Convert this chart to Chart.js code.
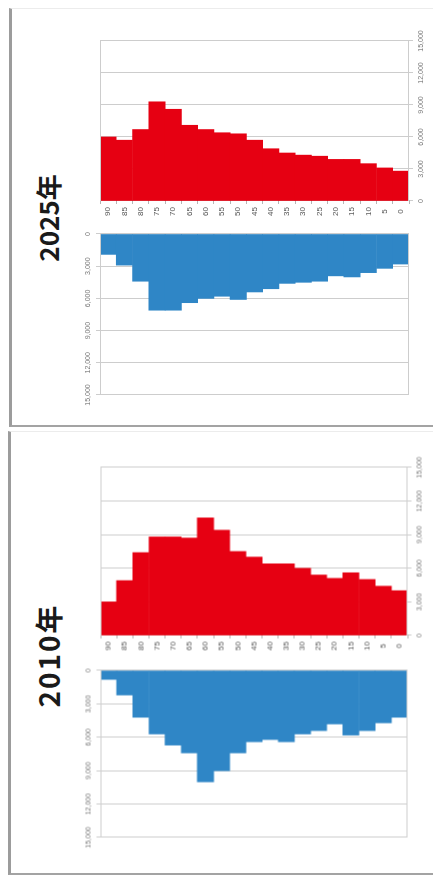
<!DOCTYPE html>
<html>
<head>
<meta charset="utf-8">
<script src="https://cdn.jsdelivr.net/npm/chart.js@4"></script>
<style>
  body { margin: 0; background: #fff; width: 433px; height: 875px; overflow: hidden; position: relative; }
  .frame { position: absolute; box-sizing: border-box; border-left: 3px solid #9c9c9c; border-bottom: 2px solid #a3a3a3; border-top: 1px solid #ececec; }
  .rot { position: absolute; transform: rotate(-90deg); }
  .rot canvas { position: absolute; top: 0; }
  .year { position: absolute; font-family: 'Noto Sans CJK JP', sans-serif; font-weight: bold; color: #1a1a1a; white-space: nowrap; transform: translate(-50%, -50%); }
</style>
</head>
<body>
<div class="frame" style="left:9px;top:8px;width:430px;height:419px"></div>
<div class="frame" style="left:8px;top:431px;width:430px;height:444px"></div>
<div id="p2025" class="rot"></div>
<div id="p2010" class="rot"></div>
<script>
// age groups, oldest first (left of each picture)
const ageLabels = ['90', '85', '80', '75', '70', '65', '60', '55', '50', '45', '40', '35', '30', '25', '20', '15', '10', '5', '0'];
const valueTicks = [0, 3000, 6000, 9000, 12000, 15000];

const female2025 = [6000, 5700, 6700, 9300, 8600, 7100, 6700, 6400, 6300, 5700, 4900, 4500, 4300, 4200, 3900, 3900, 3500, 3100, 2800];
const male2025   = [1900, 2900, 4400, 7100, 7100, 6400, 6000, 5800, 6100, 5400, 5100, 4600, 4500, 4400, 3900, 4000, 3600, 3200, 2800];

const female2010 = [3000, 4900, 7400, 8800, 8800, 8700, 10500, 9400, 7500, 7000, 6400, 6400, 6000, 5400, 5100, 5600, 5000, 4400, 4000];
const male2010   = [800, 2200, 4200, 5700, 6700, 7400, 10000, 9000, 7400, 6400, 6200, 6400, 5700, 5400, 4800, 5800, 5400, 4700, 4200];

const femaleColor = '#e60012';
const maleColor = '#2f86c6';
const gridColor = '#cdcdcd';

// thin lines on both long edges of the plot area
const frameLines = {
  id: 'frameLines',
  afterDatasetsDraw(chart) {
    const { ctx, chartArea: a } = chart;
    ctx.save();
    ctx.strokeStyle = gridColor;
    ctx.lineWidth = 1;
    ctx.beginPath();
    ctx.moveTo(a.left, Math.round(a.top) + 0.5);
    ctx.lineTo(a.right, Math.round(a.top) + 0.5);
    ctx.moveTo(a.left, Math.round(a.bottom) - 0.5);
    ctx.lineTo(a.right, Math.round(a.bottom) - 0.5);
    ctx.stroke();
    ctx.restore();
  }
};

const panels = [
  { id: 'p2025', year: '2025年', female: female2025, male: male2025,
    box: { x: 12, y: 10, w: 421, h: 415 },
    maleFull: 30, maleZero: 191, femZero: 224, femFull: 384, top: 88, bottom: 397,
    titleU: 207, titleV: 35, titleSize: 26, titleSpacing: 0 },
  { id: 'p2010', year: '2010年', female: female2010, male: male2010,
    box: { x: 12, y: 433, w: 421, h: 440 },
    maleFull: 36, maleZero: 203, femZero: 238, femFull: 406, top: 88, bottom: 395,
    titleU: 218, titleV: 35, titleSize: 28, titleSpacing: 2 }
];

function valueAxis(p, side, reverse, height) {
  return {
    type: 'linear',
    position: side,
    reverse: reverse,
    min: 0,
    max: 15000,
    afterBuildTicks: s => { s.ticks = valueTicks.map(v => ({ value: v })); },
    afterFit: s => { s.height = height; },
    grid: { color: gridColor, tickLength: 4 },
    border: { display: false },
    ticks: {
      font: { family: 'Liberation Sans', size: 7 },
      color: '#777',
      padding: 4,
      maxRotation: 0,
      callback: v => v.toLocaleString('en-US')
    }
  };
}

function barSet(data, color) {
  return {
    data: data,
    backgroundColor: color,
    borderWidth: 0,
    barPercentage: 1,
    categoryPercentage: 1
  };
}

function buildPanel(p) {
  const Wu = p.box.h, Hu = p.box.w;
  const el = document.getElementById(p.id);
  el.style.width = Wu + 'px';
  el.style.height = Hu + 'px';
  el.style.left = (p.box.x + (p.box.w - Wu) / 2) + 'px';
  el.style.top = (p.box.y + (p.box.h - Hu) / 2) + 'px';

  const title = document.createElement('div');
  title.className = 'year';
  title.textContent = p.year;
  title.style.fontSize = p.titleSize + 'px';
  title.style.letterSpacing = p.titleSpacing + 'px';
  title.style.left = p.titleU + 'px';
  title.style.top = p.titleV + 'px';
  el.appendChild(title);

  // male side: bars grow from the centre outwards (left before rotation)
  const extra = 6;
  const mc = document.createElement('canvas');
  mc.width = p.maleZero + extra;
  mc.height = Hu;
  mc.style.left = '0px';
  el.appendChild(mc);

  const fc = document.createElement('canvas');
  fc.width = Wu - p.maleZero;
  fc.height = Hu;
  fc.style.left = p.maleZero + 'px';
  el.appendChild(fc);

  new Chart(mc, {
    type: 'bar',
    data: { labels: ageLabels, datasets: [barSet(p.male, maleColor)] },
    options: {
      indexAxis: 'y',
      responsive: false,
      animation: false,
      layout: { padding: { left: p.maleFull, right: extra, top: 0, bottom: Hu - p.bottom } },
      scales: {
        x: valueAxis(p, 'top', true, p.top),
        y: { type: 'category', display: false }
      },
      plugins: { legend: { display: false }, tooltip: { enabled: false } }
    },
    plugins: [frameLines]
  });

  new Chart(fc, {
    type: 'bar',
    data: { labels: ageLabels, datasets: [barSet(p.female, femaleColor)] },
    options: {
      indexAxis: 'y',
      responsive: false,
      animation: false,
      layout: { padding: { left: 0, right: Wu - p.femFull, top: p.top, bottom: 0 } },
      scales: {
        x: valueAxis(p, 'bottom', false, Hu - p.bottom),
        y: {
          type: 'category',
          position: 'left',
          afterFit: s => { s.width = p.femZero - p.maleZero; },
          grid: { drawOnChartArea: false, tickLength: 3, color: '#b5b5b5', offset: true },
          border: { color: '#bdbdbd' },
          ticks: {
            font: { family: 'Liberation Sans', size: 8 },
            color: '#555',
            padding: 3,
            crossAlign: 'center'
          }
        }
      },
      plugins: { legend: { display: false }, tooltip: { enabled: false } }
    },
    plugins: [frameLines]
  });
}

panels.forEach(buildPanel);
</script>
</body>
</html>
